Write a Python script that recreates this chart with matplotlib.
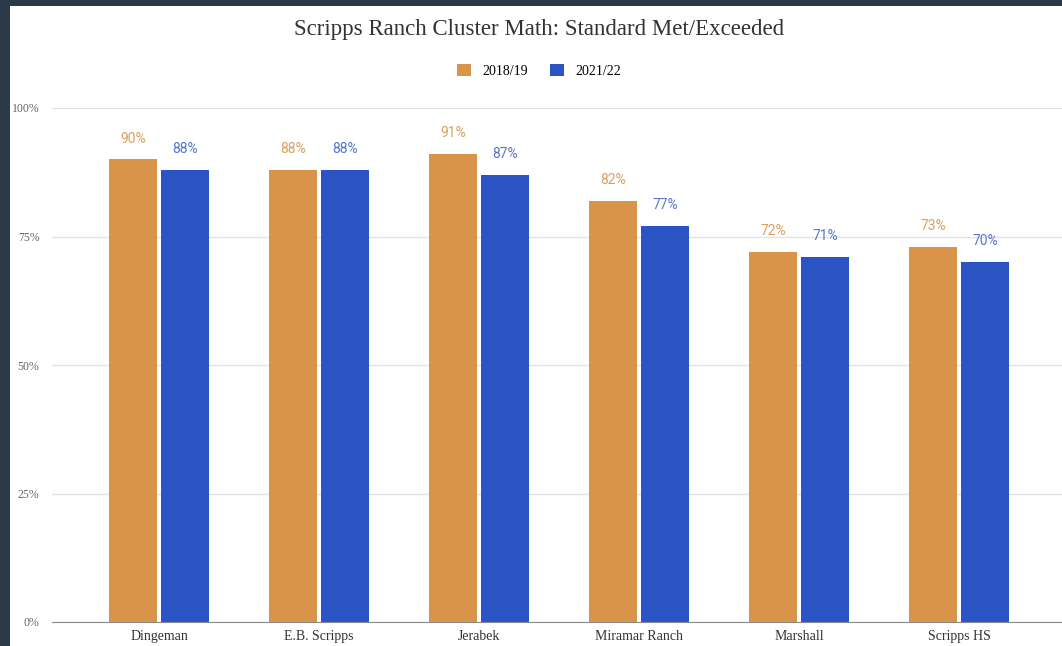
import matplotlib
matplotlib.use("Agg")
import matplotlib.pyplot as plt
from matplotlib.patches import Rectangle
from matplotlib.ticker import FixedLocator

# data
schools = ["Dingeman", "E.B. Scripps", "Jerabek", "Miramar Ranch", "Marshall", "Scripps HS"]
y2018 = [90, 88, 91, 82, 72, 73]
y2021 = [88, 88, 87, 77, 71, 70]
series_names = ["2018/19", "2021/22"]
yticks = [0, 25, 50, 75, 100]

ORANGE, BLUE = "#DA9449", "#2A53C4"
ORANGE_TXT, BLUE_TXT = "#D9A160", "#5B76CC"
W, H = 1062, 646

fig = plt.figure(figsize=(W / 100, H / 100), dpi=100)
fig.patch.set_facecolor("#2B3847")
fig.patches.append(Rectangle((10 / W, 0), 1 - 10 / W, 1 - 6 / H, transform=fig.transFigure,
                             facecolor="white", edgecolor="none", zorder=-5))

ax = fig.add_axes([52 / W, (H - 622) / H, 1 - 52 / W, (622 - 108) / H])
ax.set_facecolor("white")
x = list(range(len(schools)))
bw, off = 0.3, 0.1625
b1 = ax.bar([i - off for i in x], [v / 100 for v in y2018], bw, color=ORANGE, label=series_names[0], zorder=3)
b2 = ax.bar([i + off for i in x], [v / 100 for v in y2021], bw, color=BLUE, label=series_names[1], zorder=3)

for bars, vals, col in ((b1, y2018, ORANGE_TXT), (b2, y2021, BLUE_TXT)):
    for b, v in zip(bars, vals):
        ax.annotate(f"{v}%", (b.get_x() + b.get_width() / 2, b.get_height()), xytext=(0, 10),
                    textcoords="offset points", ha="center", va="bottom", color=col,
                    fontsize=10, family="Roboto")

ax.set_xlim((52 - 159) / 160, (1062 - 159) / 160)
ax.set_ylim(0, 1)
ax.yaxis.set_major_locator(FixedLocator([t / 100 for t in yticks]))
ax.set_yticklabels([f"{t}%" for t in yticks], fontsize=8.5, color="#666666", family="Liberation Serif")
ax.set_xticks(x)
ax.set_xticklabels(schools, fontsize=10, color="#333333", family="Liberation Serif")
ax.tick_params(length=0, pad=6)
ax.tick_params(axis="y", pad=9)
ax.grid(axis="y", color="#E3E3E3", lw=1, zorder=0)
for s in ("top", "right", "left"):
    ax.spines[s].set_visible(False)
ax.spines["bottom"].set_color("#8A8A8A")
ax.spines["bottom"].set_zorder(4)

fig.text(539 / W, 1 - 29 / H, "Scripps Ranch Cluster Math: Standard Met/Exceeded", ha="center", va="center",
         fontsize=16.5, color="#333333", family="Liberation Serif")
fig.legend(handles=[b1, b2], labels=series_names, loc="center", bbox_to_anchor=(539 / W, 1 - 71 / H),
           ncol=2, frameon=False, prop={"family": "Liberation Serif", "size": 10},
           handlelength=1.0, handleheight=1.0, columnspacing=1.6, handletextpad=0.8)

fig.savefig("out.png", dpi=100, facecolor=fig.get_facecolor())
